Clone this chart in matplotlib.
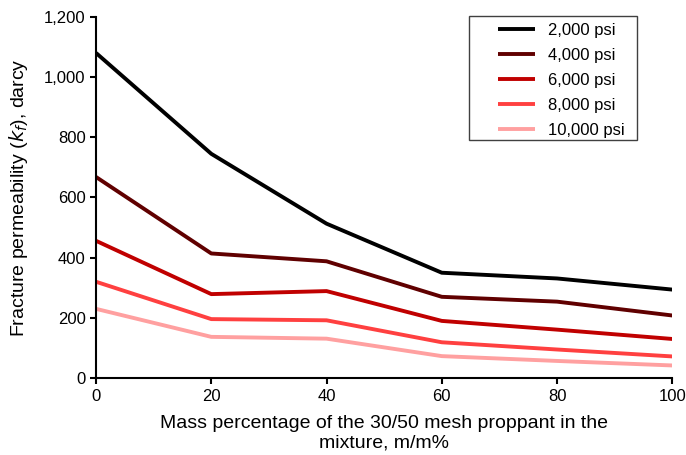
import matplotlib.pyplot as plt
from matplotlib.patches import Rectangle

plt.rcParams["font.family"] = ["Liberation Sans", "DejaVu Sans"]

x = [0, 20, 40, 60, 80, 100]
psi_2000 = [1080, 745, 513, 350, 331, 294]
psi_4000 = [668, 414, 388, 270, 254, 208]
psi_6000 = [456, 279, 289, 190, 161, 130]
psi_8000 = [320, 196, 192, 119, 95, 72]
psi_10000 = [230, 137, 131, 73, 57, 42]

labels = ["2,000 psi", "4,000 psi", "6,000 psi", "8,000 psi", "10,000 psi"]
colors = ["#000000", "#600000", "#c00000", "#ff4040", "#ffa0a0"]

fig = plt.figure(figsize=(6.86, 4.55), dpi=100)
ax = fig.add_axes([0.14, 0.169, 0.84, 0.794])

for series, lab, c in zip([psi_2000, psi_4000, psi_6000, psi_8000, psi_10000], labels, colors):
    ax.plot(x, series, color=c, lw=2.8, label=lab, solid_capstyle="butt")

ax.set_xlim(0, 100)
ax.set_ylim(0, 1200)
ax.set_xticks(x)
ax.set_yticks(range(0, 1201, 200))
ax.set_yticklabels([f"{v:,}" for v in range(0, 1201, 200)])
ax.spines["top"].set_visible(False)
ax.spines["right"].set_visible(False)
ax.spines["left"].set_linewidth(1.5)
ax.spines["bottom"].set_linewidth(1.5)
ax.tick_params(direction="out", length=4, width=1.5, labelsize=12)

ax.set_xlabel("Mass percentage of the 30/50 mesh proppant in the\nmixture, m/m%", fontsize=14, labelpad=8)
ax.set_ylabel("Fracture permeability ($k_f$), darcy", fontsize=14, labelpad=10)

# legend frame drawn separately to get the wide left padding
fig.patches.append(Rectangle((469 / 686, 1 - 140 / 455), 168 / 686, 124 / 455,
                             transform=fig.transFigure, fill=False,
                             edgecolor="#404040", lw=1.0))
leg = ax.legend(loc="upper left", fontsize=12, frameon=False, handlelength=2.2,
                handletextpad=0.8, borderpad=0, borderaxespad=0, labelspacing=0.6,
                bbox_to_anchor=(498 / 686, 1 - 23 / 455), bbox_transform=fig.transFigure)

fig.savefig("out.png", dpi=100)
